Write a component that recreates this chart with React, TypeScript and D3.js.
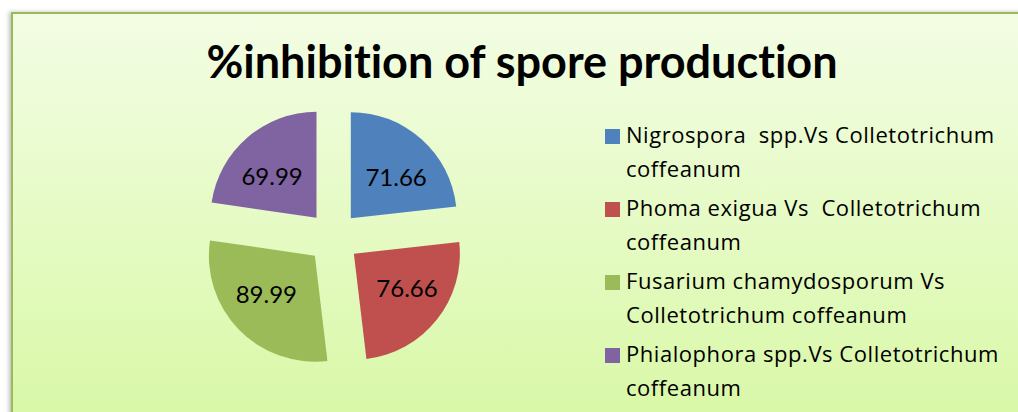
import * as d3 from "d3";

const title = "%inhibition of spore production";
const categories = [
  "Nigrospora  spp.Vs Colletotrichum coffeanum",
  "Phoma exigua Vs  Colletotrichum coffeanum",
  "Fusarium chamydosporum Vs Colletotrichum coffeanum",
  "Phialophora spp.Vs Colletotrichum coffeanum",
];
const legendLines = [
  ["Nigrospora  spp.Vs Colletotrichum", "coffeanum"],
  ["Phoma exigua Vs  Colletotrichum", "coffeanum"],
  ["Fusarium chamydosporum Vs", "Colletotrichum coffeanum"],
  ["Phialophora spp.Vs Colletotrichum", "coffeanum"],
];
const values = [71.66, 76.66, 89.99, 69.99];
const colors = ["#4f81bd", "#c0504d", "#9bbb59", "#8064a2"];

const W = 1018;
const H = 412;
const font = "Lato, 'Open Sans', sans-serif";
const legendFont = "'Open Sans', Lato, sans-serif";

export default function App() {
  const cx = 333.5;
  const cy = 237.5;
  const r = 106;
  const explode = 26;

  const pie = d3.pie<number>().sort(null).value((d) => d);
  const arcs = pie(values);
  const arcGen = d3.arc<d3.PieArcDatum<number>>().innerRadius(0).outerRadius(r);

  const slices = arcs.map((a, i) => {
    const mid = (a.startAngle + a.endAngle) / 2;
    const dx = Math.sin(mid) * explode;
    const dy = -Math.cos(mid) * explode;
    // labels sit in a box, so they drift sideways more than up/down
    const lx = Math.sin(mid) * r * 0.64;
    const ly = -Math.cos(mid) * r * 0.52;
    return (
      <g key={categories[i]} transform={`translate(${cx + dx},${cy + dy})`}>
        <path d={arcGen(a) || ""} fill={colors[i]} />
        <text
          x={lx}
          y={ly}
          dy="0.36em"
          textAnchor="middle"
          fontSize={24}
          fontFamily={font}
          fill="#000"
        >
          {values[i].toFixed(2)}
        </text>
      </g>
    );
  });

  const legend = legendLines.map((lines, i) => {
    const y0 = 143 + i * 73;
    return (
      <g key={i}>
        <rect x={605} y={y0 - 14} width={15} height={15} fill={colors[i]} />
        {lines.map((ln, j) => (
          <text
            key={j}
            x={626}
            y={y0 + j * 33.5}
            fontSize={22}
            letterSpacing={0.55}
            fontFamily={legendFont}
            fill="#000"
            style={{ whiteSpace: "pre" }}
          >
            {ln}
          </text>
        ))}
      </g>
    );
  });

  return (
    <svg
      width={W}
      height={H}
      style={{ position: "absolute", left: 0, top: 0, background: "#fff" }}
    >
      <defs>
        <linearGradient id="bg" x1="0" y1="0" x2="0" y2="1">
          <stop offset="0%" stopColor="#f3fde4" />
          <stop offset="100%" stopColor="#d8f8a6" />
        </linearGradient>
        <filter id="sh" x="-5%" y="-5%" width="110%" height="110%">
          <feDropShadow dx="-2" dy="0" stdDeviation="2" floodColor="#000" floodOpacity="0.25" />
        </filter>
      </defs>
      <rect
        x={12}
        y={13}
        width={W}
        height={H}
        fill="url(#bg)"
        stroke="#9bbb59"
        strokeWidth={2}
        filter="url(#sh)"
      />
      <text
        x={522}
        y={78}
        textAnchor="middle"
        fontSize={45}
        fontWeight="bold"
        fontFamily={font}
        fill="#000"
        style={{ fontVariantLigatures: "none" }}
      >
        {title}
      </text>
      {slices}
      {legend}
    </svg>
  );
}
